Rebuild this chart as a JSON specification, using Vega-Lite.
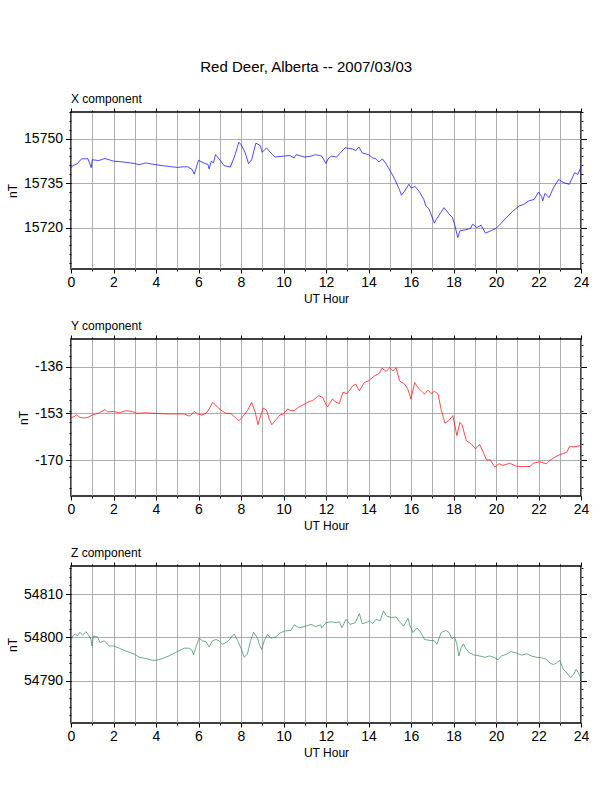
{
"$schema": "https://vega.github.io/schema/vega-lite/v6.json",
"background": "white",
"padding": {"left": 5, "top": 59, "right": 5, "bottom": 5},
"title": {"text": "Red Deer, Alberta -- 2007/03/03", "fontSize": 15, "fontWeight": "normal", "font": "Liberation Sans", "color": "black", "anchor": "middle", "frame": "bounds", "dx": 8.5, "offset": 17},
"spacing": 70,
"bounds": "flush",
"config": {
  "view": {"stroke": "black", "strokeWidth": 1.5},
  "axis": {"domain": false, "labelFont": "Liberation Sans", "labelFontSize": 14, "labelColor": "black", "labelFlush": false, "tickColor": "black", "tickWidth": 1, "titleFont": "Liberation Sans", "titleFontSize": 12, "titleFontWeight": "normal", "titleColor": "black", "gridColor": "#9a9a9a", "gridWidth": 0.8},
  "axisX": {"labelPadding": 2, "titlePadding": 4},
  "axisY": {"labelPadding": 3},
  "title": {"font": "Liberation Sans", "fontSize": 12, "fontWeight": "normal", "color": "black", "anchor": "start", "frame": "group", "offset": 2}
},
"datasets": {
"x": [
{"h":0,"v":15740.2},{"h":0.1,"v":15740.9},{"h":0.3,"v":15741.6},{"h":0.5,"v":15743.2},{"h":0.8,"v":15743.2},{"h":0.95,"v":15740.2},{"h":1.0,"v":15742.9},{"h":1.3,"v":15742.6},{"h":1.6,"v":15743.3},{"h":2.0,"v":15742.4},{"h":2.5,"v":15742.1},{"h":3.0,"v":15741.6},{"h":3.2,"v":15741.2},{"h":3.5,"v":15741.8},{"h":4.0,"v":15741.2},{"h":4.5,"v":15740.7},{"h":5.0,"v":15740.3},{"h":5.3,"v":15740.5},{"h":5.5,"v":15740.5},{"h":5.7,"v":15739.6},{"h":5.8,"v":15738.0},{"h":6.0,"v":15742.7},{"h":6.3,"v":15741.6},{"h":6.45,"v":15741.3},{"h":6.5,"v":15739.8},{"h":6.6,"v":15742.4},{"h":6.7,"v":15741.8},{"h":6.8,"v":15744.6},{"h":7.0,"v":15742.9},{"h":7.2,"v":15740.9},{"h":7.5,"v":15740.4},{"h":7.7,"v":15744.1},{"h":7.9,"v":15748.8},{"h":8.0,"v":15748.0},{"h":8.2,"v":15745.2},{"h":8.35,"v":15741.6},{"h":8.5,"v":15742.9},{"h":8.7,"v":15748.5},{"h":8.9,"v":15747.7},{"h":9.0,"v":15745.4},{"h":9.2,"v":15746.9},{"h":9.4,"v":15745.2},{"h":9.6,"v":15743.8},{"h":10.0,"v":15744.1},{"h":10.3,"v":15744.3},{"h":10.5,"v":15743.5},{"h":10.6,"v":15744.6},{"h":11.0,"v":15743.8},{"h":11.3,"v":15744.1},{"h":11.5,"v":15744.6},{"h":11.8,"v":15744.1},{"h":12.0,"v":15741.6},{"h":12.1,"v":15743.2},{"h":12.25,"v":15744.1},{"h":12.5,"v":15743.8},{"h":12.7,"v":15745.4},{"h":12.9,"v":15746.9},{"h":13.25,"v":15746.5},{"h":13.4,"v":15746.0},{"h":13.55,"v":15747.2},{"h":13.7,"v":15745.2},{"h":14.0,"v":15744.6},{"h":14.2,"v":15743.5},{"h":14.35,"v":15743.2},{"h":14.5,"v":15742.1},{"h":14.65,"v":15743.2},{"h":14.8,"v":15741.8},{"h":15.0,"v":15739.4},{"h":15.2,"v":15736.8},{"h":15.45,"v":15732.9},{"h":15.55,"v":15730.9},{"h":15.7,"v":15732.3},{"h":15.9,"v":15734.6},{"h":16.0,"v":15733.4},{"h":16.2,"v":15733.8},{"h":16.4,"v":15732.0},{"h":16.6,"v":15729.5},{"h":16.7,"v":15727.3},{"h":16.85,"v":15726.2},{"h":17.1,"v":15721.5},{"h":17.2,"v":15722.8},{"h":17.4,"v":15725.0},{"h":17.55,"v":15726.7},{"h":17.8,"v":15724.5},{"h":17.95,"v":15723.4},{"h":18.05,"v":15721.1},{"h":18.2,"v":15716.6},{"h":18.3,"v":15718.9},{"h":18.55,"v":15719.2},{"h":18.8,"v":15719.7},{"h":18.9,"v":15721.1},{"h":19.1,"v":15720.0},{"h":19.3,"v":15720.8},{"h":19.5,"v":15718.1},{"h":19.75,"v":15718.9},{"h":20.0,"v":15719.7},{"h":20.25,"v":15721.5},{"h":20.5,"v":15723.4},{"h":20.8,"v":15725.6},{"h":21.1,"v":15727.3},{"h":21.3,"v":15727.8},{"h":21.55,"v":15729.0},{"h":21.8,"v":15729.5},{"h":22.0,"v":15732.0},{"h":22.15,"v":15730.4},{"h":22.2,"v":15729.0},{"h":22.3,"v":15731.5},{"h":22.5,"v":15730.1},{"h":22.7,"v":15733.4},{"h":22.95,"v":15736.2},{"h":23.2,"v":15735.1},{"h":23.45,"v":15734.6},{"h":23.7,"v":15738.5},{"h":23.85,"v":15737.9},{"h":24.0,"v":15740.5}
],
"y": [
{"h":0,"v":-154.5},{"h":0.15,"v":-154.2},{"h":0.27,"v":-153.5},{"h":0.42,"v":-154.5},{"h":0.63,"v":-154.7},{"h":0.78,"v":-154.5},{"h":1.0,"v":-153.6},{"h":1.33,"v":-152.8},{"h":1.6,"v":-151.6},{"h":1.72,"v":-152.5},{"h":2.0,"v":-152.3},{"h":2.27,"v":-152.8},{"h":2.6,"v":-152.0},{"h":2.9,"v":-152.4},{"h":3.13,"v":-153.0},{"h":3.5,"v":-152.8},{"h":4.0,"v":-153.0},{"h":4.47,"v":-153.2},{"h":4.94,"v":-153.2},{"h":5.33,"v":-153.2},{"h":5.56,"v":-154.0},{"h":5.7,"v":-153.2},{"h":5.8,"v":-152.3},{"h":5.95,"v":-153.2},{"h":6.16,"v":-153.6},{"h":6.35,"v":-153.0},{"h":6.5,"v":-151.4},{"h":6.66,"v":-149.0},{"h":6.8,"v":-149.9},{"h":6.9,"v":-150.8},{"h":7.05,"v":-151.8},{"h":7.3,"v":-153.0},{"h":7.52,"v":-153.0},{"h":7.68,"v":-154.2},{"h":7.9,"v":-155.7},{"h":8.05,"v":-154.5},{"h":8.3,"v":-152.0},{"h":8.5,"v":-149.0},{"h":8.67,"v":-152.6},{"h":8.8,"v":-157.1},{"h":8.95,"v":-153.2},{"h":9.05,"v":-151.1},{"h":9.2,"v":-151.8},{"h":9.33,"v":-155.1},{"h":9.45,"v":-157.1},{"h":9.64,"v":-155.4},{"h":9.83,"v":-153.6},{"h":10.0,"v":-153.2},{"h":10.2,"v":-151.4},{"h":10.35,"v":-152.0},{"h":10.5,"v":-152.0},{"h":10.74,"v":-150.6},{"h":11.0,"v":-149.6},{"h":11.2,"v":-148.7},{"h":11.36,"v":-148.4},{"h":11.65,"v":-146.6},{"h":11.85,"v":-147.2},{"h":12.0,"v":-149.9},{"h":12.08,"v":-150.6},{"h":12.3,"v":-147.8},{"h":12.47,"v":-149.0},{"h":12.63,"v":-149.4},{"h":12.79,"v":-145.4},{"h":13.0,"v":-145.8},{"h":13.26,"v":-143.0},{"h":13.4,"v":-142.4},{"h":13.57,"v":-144.8},{"h":13.8,"v":-141.8},{"h":14.0,"v":-141.2},{"h":14.28,"v":-139.4},{"h":14.5,"v":-138.5},{"h":14.64,"v":-136.6},{"h":14.83,"v":-137.8},{"h":14.99,"v":-136.4},{"h":15.14,"v":-137.6},{"h":15.3,"v":-136.4},{"h":15.46,"v":-141.2},{"h":15.7,"v":-142.4},{"h":15.85,"v":-144.2},{"h":16.0,"v":-147.8},{"h":16.17,"v":-141.8},{"h":16.32,"v":-143.6},{"h":16.48,"v":-144.8},{"h":16.64,"v":-146.0},{"h":16.8,"v":-144.6},{"h":16.95,"v":-145.8},{"h":17.1,"v":-145.0},{"h":17.27,"v":-146.0},{"h":17.43,"v":-152.0},{"h":17.6,"v":-156.6},{"h":17.8,"v":-155.4},{"h":17.97,"v":-153.8},{"h":18.16,"v":-161.1},{"h":18.3,"v":-156.3},{"h":18.4,"v":-157.1},{"h":18.6,"v":-162.9},{"h":18.84,"v":-164.1},{"h":19.04,"v":-165.9},{"h":19.23,"v":-164.3},{"h":19.4,"v":-167.1},{"h":19.55,"v":-169.9},{"h":19.73,"v":-169.9},{"h":19.94,"v":-172.5},{"h":20.14,"v":-171.3},{"h":20.33,"v":-171.9},{"h":20.64,"v":-171.1},{"h":20.96,"v":-172.2},{"h":21.28,"v":-172.3},{"h":21.6,"v":-172.3},{"h":21.75,"v":-171.1},{"h":22.06,"v":-170.6},{"h":22.38,"v":-171.3},{"h":22.53,"v":-170.1},{"h":22.77,"v":-168.9},{"h":23.0,"v":-168.0},{"h":23.33,"v":-167.1},{"h":23.46,"v":-165.1},{"h":23.73,"v":-165.1},{"h":24.0,"v":-164.7}
],
"z": [
{"h":0,"v":54799.2},{"h":0.08,"v":54800.3},{"h":0.2,"v":54800.8},{"h":0.3,"v":54800.3},{"h":0.42,"v":54801.2},{"h":0.55,"v":54800.5},{"h":0.7,"v":54801.3},{"h":0.83,"v":54800.5},{"h":0.94,"v":54799.5},{"h":0.99,"v":54798.0},{"h":1.05,"v":54800.3},{"h":1.25,"v":54800.1},{"h":1.36,"v":54798.8},{"h":1.57,"v":54799.2},{"h":1.8,"v":54798.0},{"h":2.0,"v":54798.0},{"h":2.27,"v":54797.5},{"h":2.59,"v":54796.8},{"h":2.82,"v":54796.4},{"h":3.0,"v":54796.1},{"h":3.2,"v":54795.4},{"h":3.53,"v":54795.1},{"h":3.84,"v":54794.7},{"h":4.0,"v":54794.7},{"h":4.3,"v":54795.1},{"h":4.6,"v":54795.7},{"h":5.0,"v":54796.7},{"h":5.33,"v":54797.5},{"h":5.56,"v":54797.5},{"h":5.69,"v":54797.0},{"h":5.77,"v":54795.9},{"h":5.88,"v":54797.8},{"h":6.03,"v":54799.8},{"h":6.19,"v":54799.2},{"h":6.35,"v":54799.0},{"h":6.5,"v":54797.8},{"h":6.66,"v":54799.2},{"h":6.82,"v":54799.5},{"h":6.97,"v":54799.2},{"h":7.13,"v":54798.4},{"h":7.37,"v":54799.0},{"h":7.52,"v":54799.9},{"h":7.68,"v":54800.8},{"h":7.84,"v":54799.3},{"h":8.0,"v":54797.5},{"h":8.15,"v":54795.4},{"h":8.3,"v":54796.1},{"h":8.45,"v":54799.2},{"h":8.59,"v":54801.2},{"h":8.78,"v":54799.8},{"h":8.86,"v":54798.4},{"h":8.97,"v":54797.2},{"h":9.1,"v":54799.3},{"h":9.25,"v":54800.7},{"h":9.4,"v":54799.8},{"h":9.64,"v":54800.1},{"h":9.87,"v":54801.1},{"h":10.1,"v":54801.5},{"h":10.35,"v":54801.6},{"h":10.5,"v":54802.9},{"h":10.74,"v":54802.2},{"h":11.05,"v":54802.6},{"h":11.3,"v":54803.0},{"h":11.5,"v":54802.5},{"h":11.75,"v":54802.9},{"h":11.8,"v":54802.2},{"h":12.0,"v":54803.4},{"h":12.24,"v":54803.6},{"h":12.47,"v":54803.4},{"h":12.63,"v":54803.6},{"h":12.75,"v":54802.2},{"h":12.94,"v":54804.2},{"h":13.13,"v":54803.0},{"h":13.38,"v":54803.4},{"h":13.57,"v":54805.5},{"h":13.7,"v":54803.2},{"h":13.89,"v":54803.4},{"h":14.04,"v":54803.8},{"h":14.2,"v":54803.2},{"h":14.36,"v":54804.2},{"h":14.55,"v":54803.8},{"h":14.7,"v":54806.1},{"h":14.86,"v":54804.9},{"h":15.07,"v":54804.6},{"h":15.3,"v":54804.7},{"h":15.46,"v":54803.6},{"h":15.65,"v":54802.6},{"h":15.86,"v":54804.4},{"h":15.96,"v":54802.6},{"h":16.09,"v":54801.1},{"h":16.28,"v":54802.2},{"h":16.44,"v":54801.3},{"h":16.64,"v":54799.5},{"h":16.87,"v":54799.3},{"h":17.1,"v":54799.2},{"h":17.22,"v":54798.4},{"h":17.42,"v":54801.1},{"h":17.63,"v":54801.6},{"h":17.8,"v":54801.1},{"h":17.93,"v":54799.7},{"h":18.05,"v":54800.1},{"h":18.16,"v":54798.4},{"h":18.25,"v":54795.7},{"h":18.36,"v":54797.6},{"h":18.47,"v":54798.5},{"h":18.6,"v":54797.2},{"h":18.76,"v":54796.4},{"h":19.0,"v":54795.9},{"h":19.23,"v":54795.7},{"h":19.47,"v":54795.4},{"h":19.7,"v":54795.7},{"h":19.94,"v":54795.3},{"h":20.1,"v":54794.8},{"h":20.25,"v":54795.7},{"h":20.5,"v":54796.1},{"h":20.7,"v":54796.7},{"h":20.96,"v":54796.4},{"h":21.2,"v":54795.9},{"h":21.45,"v":54796.2},{"h":21.67,"v":54795.7},{"h":21.9,"v":54795.4},{"h":22.14,"v":54795.3},{"h":22.38,"v":54794.9},{"h":22.53,"v":54794.1},{"h":22.7,"v":54793.7},{"h":22.85,"v":54794.1},{"h":23.0,"v":54794.7},{"h":23.17,"v":54792.6},{"h":23.33,"v":54791.8},{"h":23.52,"v":54790.7},{"h":23.65,"v":54791.4},{"h":23.77,"v":54792.6},{"h":23.88,"v":54791.8},{"h":23.95,"v":54791.0},{"h":24.0,"v":54791.6}
]
},
"vconcat": [
{
 "width": 510, "height": 157,
 "title": "X component",
 "data": {"name": "x"},
 "layer": [
  {"mark": {"type": "line", "color": "#0000ff", "strokeWidth": 0.7},
   "encoding": {
    "x": {"field": "h", "type": "quantitative", "scale": {"domain": [0, 24], "nice": false, "zero": false},
          "axis": {"orient": "bottom", "values": [0,2,4,6,8,10,12,14,16,18,20,22,24], "tickSize": 4, "grid": false, "title": "UT Hour"}},
    "y": {"field": "v", "type": "quantitative", "scale": {"domain": [15706, 15759], "nice": false, "zero": false},
          "axis": {"orient": "left", "values": [15720, 15735, 15750], "tickSize": 5.5, "grid": true, "title": "nT", "labelExpr": "datum.value + ''"}}
   }},
  {"mark": {"type": "point", "opacity": 0},
   "encoding": {
    "x": {"field": "h", "type": "quantitative", "axis": {"orient": "bottom", "values": [0,1,2,3,4,5,6,7,8,9,10,11,12,13,14,15,16,17,18,19,20,21,22,23,24], "tickSize": 2, "labels": false, "grid": true, "title": null}},
    "y": {"field": "v", "type": "quantitative", "axis": {"orient": "left", "values": [15708,15711,15714,15717,15720,15723,15726,15729,15732,15735,15738,15741,15744,15747,15750,15753,15756,15759], "tickSize": 2, "labels": false, "grid": false, "title": null}}
   }},
  {"mark": {"type": "point", "opacity": 0},
   "encoding": {
    "x": {"field": "h", "type": "quantitative", "axis": {"orient": "top", "values": [0,2,4,6,8,10,12,14,16,18,20,22,24], "tickSize": 4, "labels": false, "grid": false, "title": null}},
    "y": {"field": "v", "type": "quantitative", "axis": {"orient": "right", "values": [15720, 15735, 15750], "tickSize": 5.5, "labels": false, "grid": false, "title": null}}
   }},
  {"mark": {"type": "point", "opacity": 0},
   "encoding": {
    "x": {"field": "h", "type": "quantitative", "axis": {"orient": "top", "values": [1,3,5,7,9,11,13,15,17,19,21,23], "tickSize": 2, "labels": false, "grid": false, "title": null}},
    "y": {"field": "v", "type": "quantitative", "axis": {"orient": "right", "values": [15708,15711,15714,15717,15720,15723,15726,15729,15732,15735,15738,15741,15744,15747,15750,15753,15756,15759], "tickSize": 2, "labels": false, "grid": false, "title": null}}
   }}
 ],
 "resolve": {"axis": {"x": "independent", "y": "independent"}}
},
{
 "width": 510, "height": 157,
 "title": "Y component",
 "data": {"name": "y"},
 "layer": [
  {"mark": {"type": "line", "color": "#ff0000", "strokeWidth": 0.7},
   "encoding": {
    "x": {"field": "h", "type": "quantitative", "scale": {"domain": [0, 24], "nice": false, "zero": false},
          "axis": {"orient": "bottom", "values": [0,2,4,6,8,10,12,14,16,18,20,22,24], "tickSize": 4, "grid": false, "title": "UT Hour"}},
    "y": {"field": "v", "type": "quantitative", "scale": {"domain": [-183, -126], "nice": false, "zero": false},
          "axis": {"orient": "left", "values": [-170, -153, -136], "tickSize": 5.5, "grid": true, "title": "nT", "labelExpr": "datum.value + ''"}}
   }},
  {"mark": {"type": "point", "opacity": 0},
   "encoding": {
    "x": {"field": "h", "type": "quantitative", "axis": {"orient": "bottom", "values": [0,1,2,3,4,5,6,7,8,9,10,11,12,13,14,15,16,17,18,19,20,21,22,23,24], "tickSize": 2, "labels": false, "grid": true, "title": null}},
    "y": {"field": "v", "type": "quantitative", "axis": {"orient": "left", "values": [-180,-176,-172,-168,-164,-160,-156,-152,-148,-144,-140,-136,-132,-128], "tickSize": 2, "labels": false, "grid": false, "title": null}}
   }},
  {"mark": {"type": "point", "opacity": 0},
   "encoding": {
    "x": {"field": "h", "type": "quantitative", "axis": {"orient": "top", "values": [0,2,4,6,8,10,12,14,16,18,20,22,24], "tickSize": 4, "labels": false, "grid": false, "title": null}},
    "y": {"field": "v", "type": "quantitative", "axis": {"orient": "right", "values": [-170, -153, -136], "tickSize": 5.5, "labels": false, "grid": false, "title": null}}
   }},
  {"mark": {"type": "point", "opacity": 0},
   "encoding": {
    "x": {"field": "h", "type": "quantitative", "axis": {"orient": "top", "values": [1,3,5,7,9,11,13,15,17,19,21,23], "tickSize": 2, "labels": false, "grid": false, "title": null}},
    "y": {"field": "v", "type": "quantitative", "axis": {"orient": "right", "values": [-180,-176,-172,-168,-164,-160,-156,-152,-148,-144,-140,-136,-132,-128], "tickSize": 2, "labels": false, "grid": false, "title": null}}
   }}
 ],
 "resolve": {"axis": {"x": "independent", "y": "independent"}}
},
{
 "width": 510, "height": 157,
 "title": "Z component",
 "data": {"name": "z"},
 "layer": [
  {"mark": {"type": "line", "color": "#2e8b57", "strokeWidth": 0.7},
   "encoding": {
    "x": {"field": "h", "type": "quantitative", "scale": {"domain": [0, 24], "nice": false, "zero": false},
          "axis": {"orient": "bottom", "values": [0,2,4,6,8,10,12,14,16,18,20,22,24], "tickSize": 4, "grid": false, "title": "UT Hour"}},
    "y": {"field": "v", "type": "quantitative", "scale": {"domain": [54780.2, 54816.5], "nice": false, "zero": false},
          "axis": {"orient": "left", "values": [54790, 54800, 54810], "tickSize": 5.5, "grid": true, "title": "nT", "labelExpr": "datum.value + ''"}}
   }},
  {"mark": {"type": "point", "opacity": 0},
   "encoding": {
    "x": {"field": "h", "type": "quantitative", "axis": {"orient": "bottom", "values": [0,1,2,3,4,5,6,7,8,9,10,11,12,13,14,15,16,17,18,19,20,21,22,23,24], "tickSize": 2, "labels": false, "grid": true, "title": null}},
    "y": {"field": "v", "type": "quantitative", "axis": {"orient": "left", "values": [54782,54784,54786,54788,54790,54792,54794,54796,54798,54800,54802,54804,54806,54808,54810,54812,54814,54816], "tickSize": 2, "labels": false, "grid": false, "title": null}}
   }},
  {"mark": {"type": "point", "opacity": 0},
   "encoding": {
    "x": {"field": "h", "type": "quantitative", "axis": {"orient": "top", "values": [0,2,4,6,8,10,12,14,16,18,20,22,24], "tickSize": 4, "labels": false, "grid": false, "title": null}},
    "y": {"field": "v", "type": "quantitative", "axis": {"orient": "right", "values": [54790, 54800, 54810], "tickSize": 5.5, "labels": false, "grid": false, "title": null}}
   }},
  {"mark": {"type": "point", "opacity": 0},
   "encoding": {
    "x": {"field": "h", "type": "quantitative", "axis": {"orient": "top", "values": [1,3,5,7,9,11,13,15,17,19,21,23], "tickSize": 2, "labels": false, "grid": false, "title": null}},
    "y": {"field": "v", "type": "quantitative", "axis": {"orient": "right", "values": [54782,54784,54786,54788,54790,54792,54794,54796,54798,54800,54802,54804,54806,54808,54810,54812,54814,54816], "tickSize": 2, "labels": false, "grid": false, "title": null}}
   }}
 ],
 "resolve": {"axis": {"x": "independent", "y": "independent"}}
}
]
}
